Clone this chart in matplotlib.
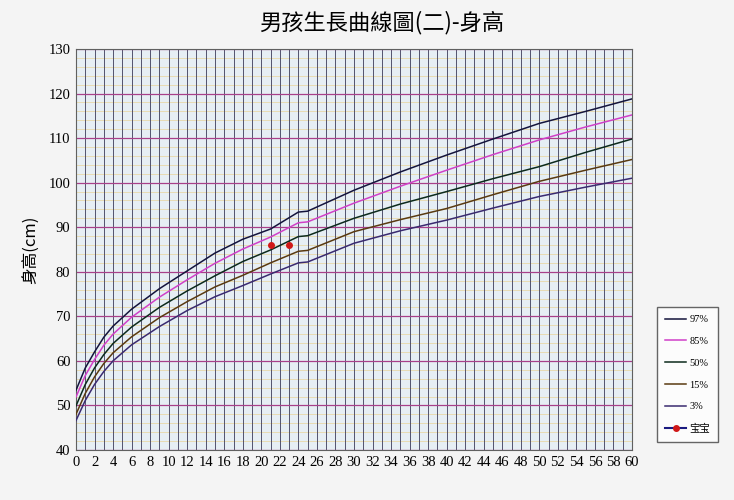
import matplotlib.pyplot as plt
import numpy as np

plt.rcParams['font.family'] = ['Noto Sans CJK TC', 'DejaVu Sans']

# 月齡與百分位身高 (cm)
months = [0, 1, 2, 3, 4, 6, 9, 12, 15, 18, 21, 24, 25, 30, 35, 40, 45, 50, 55, 60]
p97 = [53.4, 58.4, 62.0, 65.3, 67.8, 71.6, 76.2, 80.2, 84.2, 87.3, 89.6, 93.4, 93.6, 98.3, 102.4, 106.2, 109.8, 113.3, 116.0, 118.8]
p85 = [51.9, 56.7, 60.3, 63.5, 66.0, 69.8, 74.3, 78.2, 81.9, 85.1, 87.8, 91.0, 91.2, 95.4, 99.2, 102.8, 106.3, 109.6, 112.5, 115.2]
p50 = [49.9, 54.7, 58.4, 61.4, 63.9, 67.6, 72.0, 75.7, 79.1, 82.3, 84.9, 87.9, 88.1, 92.0, 95.2, 98.0, 100.9, 103.6, 106.8, 109.8]
p15 = [48.0, 52.7, 56.4, 59.4, 61.8, 65.4, 69.7, 73.3, 76.6, 79.2, 82.0, 84.6, 84.8, 89.0, 91.7, 94.2, 97.3, 100.3, 102.8, 105.2]
p3 = [46.6, 51.1, 54.7, 57.6, 60.0, 63.6, 67.7, 71.3, 74.4, 76.9, 79.5, 82.0, 82.2, 86.4, 89.2, 91.6, 94.3, 96.9, 99.0, 101.0]
baby_months = [21, 23]
baby_height = [86.0, 86.0]

curves = [('97%', p97, '#14143c'), ('85%', p85, '#d040c8'), ('50%', p50, '#0c2a1c'),
          ('15%', p15, '#5a3a10'), ('3%', p3, '#3a2a70')]

fig = plt.figure(figsize=(7.34, 5.0), dpi=100)
fig.patch.set_facecolor('#f4f4f4')
ax = fig.add_axes([0.1035, 0.1, 0.7575, 0.802])
ax.set_facecolor('#e6eef4')

# 網格
for m in range(0, 61):
    ax.axvline(m, color='#3a3a58', lw=0.6, zorder=1)
for v in range(42, 130, 2):
    if v % 10:
        ax.axhline(v, color='#e8d8a8', lw=0.6, zorder=0.5)
for v in range(40, 131, 10):
    ax.axhline(v, color='#a8408a', lw=0.9, zorder=1.2)

for name, vals, col in curves:
    ax.plot(months, vals, color=col, lw=1.1, label=name, zorder=3)
ax.plot(baby_months, baby_height, color='#1a1a80', lw=0, marker='o', ms=4,
        mfc='#d01818', mec='#d01818', zorder=4)
ax.plot([], [], color='#1a1a80', marker='o', ms=4, mfc='#d01818', mec='#d01818', label='宝宝')

ax.set_xlim(0, 60)
ax.set_ylim(40, 130)
ax.set_xticks(range(0, 61, 2))
ax.set_yticks(range(40, 131, 10))
for lab in ax.get_xticklabels() + ax.get_yticklabels():
    lab.set_family('Liberation Serif')
    lab.set_fontsize(10.5)
ax.tick_params(length=0, pad=4)
for s in ax.spines.values():
    s.set_color('#606060')
    s.set_linewidth(0.8)

ax.set_ylabel('身高(cm)', fontsize=12, labelpad=6)
fig.text(0.52, 0.955, '男孩生長曲線圖(二)-身高', ha='center', va='center', fontsize=16)

leg = fig.legend(loc='lower left', bbox_to_anchor=(0.888, 0.105), frameon=True,
                 fancybox=False, edgecolor='#404040', handlelength=2.0,
                 labelspacing=1.2, borderpad=0.8, handletextpad=0.3,
                 prop={'family': ['Liberation Serif', 'Noto Sans CJK TC'], 'size': 7.5})
leg.get_frame().set_facecolor('white')

fig.savefig('out.png', dpi=100, facecolor=fig.get_facecolor())
